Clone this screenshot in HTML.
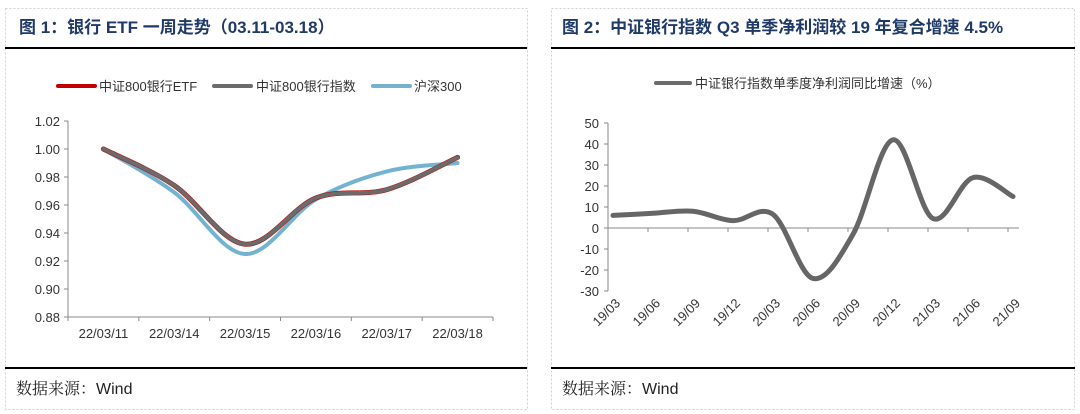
<!DOCTYPE html>
<html><head><meta charset="utf-8"><style>
body{margin:0;width:1080px;height:414px;background:#fff;overflow:hidden;font-family:"Liberation Sans","Noto Sans CJK SC",sans-serif}
svg{position:absolute;left:0;top:0}
.serif{font-family:"Noto Serif CJK SC","Liberation Serif",serif}
</style></head><body>
<svg width="1080" height="414" xmlns="http://www.w3.org/2000/svg" font-family="Liberation Sans, Noto Sans CJK SC, sans-serif">
<g fill="none" stroke="#d0d0d0" stroke-dasharray="2,2">
<rect x="5.5" y="8.5" width="522" height="401"/>
<rect x="551.5" y="8.5" width="523" height="401"/>
</g>
<g>
<text x="19" y="33" font-size="17" font-weight="bold" fill="#1f3a68">图 1：银行 ETF 一周走势（03.11-03.18）</text>
<line x1="5" y1="48" x2="527" y2="48" stroke="#000" stroke-width="2"/>
</g>
<g>
<text x="562" y="33" font-size="17" font-weight="bold" fill="#1f3a68">图 2：中证银行指数 Q3 单季净利润较 19 年复合增速 4.5%</text>
<line x1="551" y1="48" x2="1075" y2="48" stroke="#000" stroke-width="2"/>
</g>
<g>
<line x1="5" y1="368" x2="527" y2="368" stroke="#000" stroke-width="2"/>
<line x1="551" y1="368" x2="1075" y2="368" stroke="#000" stroke-width="2"/>
<text x="16" y="394" font-size="16" fill="#222"><tspan class="serif">数据来源：</tspan>Wind</text>
<text x="562" y="394" font-size="16" fill="#222"><tspan class="serif">数据来源：</tspan>Wind</text>
</g>
<g font-size="13" fill="#333">
<line x1="58" y1="86" x2="95" y2="86" stroke="#c00000" stroke-width="4" stroke-linecap="round"/>
<text x="99" y="91">中证800银行ETF</text>
<line x1="214" y1="86" x2="251" y2="86" stroke="#6b6b6b" stroke-width="4" stroke-linecap="round"/>
<text x="256" y="91">中证800银行指数</text>
<line x1="373" y1="86" x2="410" y2="86" stroke="#73b3d0" stroke-width="4" stroke-linecap="round"/>
<text x="414" y="91">沪深300</text>
</g>
<g font-size="13" fill="#333">
<line x1="656" y1="83" x2="690" y2="83" stroke="#6b6b6b" stroke-width="4" stroke-linecap="round"/>
<text x="695" y="88">中证银行指数单季度净利润同比增速（%）</text>
</g>
<g id="left-chart"></g>
<g id="right-chart"></g>
</svg>
<script>
const leftCats = ["22/03/11","22/03/14","22/03/15","22/03/16","22/03/17","22/03/18"];
const etfValues = [1.000,0.974,0.932,0.965,0.971,0.994];
const indexValues = [1.000,0.974,0.932,0.965,0.971,0.994];
const hs300Values = [1.000,0.969,0.925,0.964,0.984,0.990];
const leftTicks = [0.88,0.90,0.92,0.94,0.96,0.98,1.00,1.02];
const rightCats = ["19/03","19/06","19/09","19/12","20/03","20/06","20/09","20/12","21/03","21/06","21/09"];
const profitValues = [6,7,8,3.5,6.5,-24,-3,42,4.5,24,15];
const rightTicks = [-30,-20,-10,0,10,20,30,40,50];

const NS="http://www.w3.org/2000/svg";
function mk(tag,attrs,parent){const e=document.createElementNS(NS,tag);for(const k in attrs)e.setAttribute(k,attrs[k]);parent.appendChild(e);return e;}
function smooth(pts){
  let d="M"+pts[0][0]+","+pts[0][1];
  for(let i=0;i<pts.length-1;i++){
    const p0=pts[i-1]||pts[i],p1=pts[i],p2=pts[i+1],p3=pts[i+2]||p2,t=0.5/3;
    d+=" C"+(p1[0]+(p2[0]-p0[0])*t)+","+(p1[1]+(p2[1]-p0[1])*t)+" "+(p2[0]-(p3[0]-p1[0])*t)+","+(p2[1]-(p3[1]-p1[1])*t)+" "+p2[0]+","+p2[1];
  }
  return d;
}
(function(){
  const g=document.getElementById('left-chart');
  const x0=68,x1=493,yTop=121,yBot=317,vmin=0.88,vmax=1.02;
  const bw=(x1-x0)/leftCats.length;
  const y=v=>yBot-(v-vmin)/(vmax-vmin)*(yBot-yTop);
  const x=i=>x0+bw*(i+0.5);
  mk('line',{x1:x0,y1:yTop,x2:x0,y2:yBot,stroke:'#888'},g);
  mk('line',{x1:x0,y1:yBot,x2:x1,y2:yBot,stroke:'#888'},g);
  leftTicks.forEach(t=>{
    mk('line',{x1:x0-4,y1:y(t),x2:x0,y2:y(t),stroke:'#888'},g);
    const tx=mk('text',{x:x0-8,y:y(t)+5,'font-size':13,'text-anchor':'end',fill:'#333'},g);
    
    
    tx.textContent=t.toFixed(2);
  });
  for(let i=0;i<=leftCats.length;i++)mk('line',{x1:x0+bw*i,y1:yBot,x2:x0+bw*i,y2:yBot+4,stroke:'#888'},g);
  leftCats.forEach((c,i)=>{
    const tx=mk('text',{x:x(i),y:yBot+21,'font-size':13,'text-anchor':'middle',fill:'#333'},g);
    
    
    tx.textContent=c;
  });
  const series=[[hs300Values,'#73b3d0','hs300-line'],[etfValues,'#c00000','etf-line'],[indexValues,'#6b6b6b','index-line']];
  series.forEach(([vals,col,name],k)=>{
    const p=mk('path',{d:smooth(vals.map((v,i)=>[x(i),y(v)])),fill:'none',stroke:col,'stroke-width':k==1?5:4,'stroke-linecap':'round'},g);
    
    
  });
})();
(function(){
  const g=document.getElementById('right-chart');
  const x0=608,yTop=123,yBot=291,vmin=-30,vmax=50;
  const y=v=>yBot-(v-vmin)/(vmax-vmin)*(yBot-yTop);
  const x=i=>x0+5+i*40;
  mk('line',{x1:x0,y1:yTop,x2:x0,y2:yBot,stroke:'#888'},g);
  mk('line',{x1:x0,y1:y(0),x2:1019,y2:y(0),stroke:'#888'},g);
  rightTicks.forEach(t=>{
    mk('line',{x1:x0-4,y1:y(t),x2:x0,y2:y(t),stroke:'#888'},g);
    const tx=mk('text',{x:x0-9,y:y(t)+5,'font-size':13,'text-anchor':'end',fill:'#333'},g);
    
    
    tx.textContent=t;
  });
  for(let i=0;i<rightCats.length;i++)mk('line',{x1:x0+i*40,y1:y(0),x2:x0+i*40,y2:y(0)+4,stroke:'#888'},g);
  rightCats.forEach((c,i)=>{
    const ax=x(i)+8,ay=yBot+13;
    const tx=mk('text',{x:ax,y:ay,'font-size':13,'text-anchor':'end',fill:'#333',transform:'rotate(-45 '+ax+' '+ay+')'},g);
    
    
    tx.textContent=c;
  });
  const p=mk('path',{d:smooth(profitValues.map((v,i)=>[x(i),y(v)])),fill:'none',stroke:'#666','stroke-width':5,'stroke-linecap':'round'},g);
  
  
})();
</script>
</body></html>
